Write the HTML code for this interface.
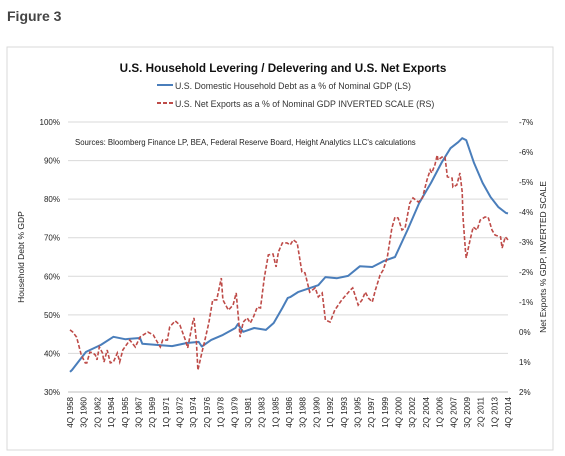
<!DOCTYPE html>
<html><head><meta charset="utf-8">
<style>
body{margin:0;background:#fff;width:565px;height:456px;overflow:hidden;font-family:"Liberation Sans",sans-serif;}
svg{position:absolute;left:0;top:0}
</style></head>
<body>
<svg id="chart" width="565" height="456">
<text x="7" y="21" font-size="14" font-weight="bold" fill="#444">Figure 3</text>
<rect x="7" y="47" width="546" height="403" fill="#fff" stroke="#d9d9d9"/>
<text x="283" y="72" font-size="11.7" font-weight="bold" text-anchor="middle" fill="#111">U.S. Household Levering / Delevering and U.S. Net Exports</text>
<g>
<line x1="157" y1="85" x2="173" y2="85" stroke="#4a7ebb" stroke-width="2"/>
<text x="175" y="89" font-size="8.8" fill="#333">U.S. Domestic Household Debt as a % of Nominal GDP (LS)</text>
<line x1="157" y1="103" x2="173" y2="103" stroke="#be4b48" stroke-width="2" stroke-dasharray="4,2"/>
<text x="175" y="107" font-size="8.8" fill="#333">U.S. Net Exports as a % of Nominal GDP INVERTED SCALE (RS)</text>
</g>
<text x="75" y="145" font-size="7.8" fill="#222">Sources: Bloomberg Finance LP, BEA, Federal Reserve Board, Height Analytics LLC's calculations</text>
<text transform="translate(24,257) rotate(-90)" font-size="8.5" text-anchor="middle" fill="#222">Household Debt % GDP</text>
<text transform="translate(546,257) rotate(-90)" font-size="8.5" text-anchor="middle" fill="#222">Net Exports % GDP, INVERTED SCALE</text>
<g id="grid"></g><g id="axes"></g><g id="series"></g>
</svg>
<script>
const leftTicks=[30,40,50,60,70,80,90,100];
const rightTicks=[2,1,0,-1,-2,-3,-4,-5,-6,-7];
const debtYears=[1958.75,1959.0,1960.8,1962.7,1964.3,1965.8,1967.7,1968.0,1969.8,1971.8,1973.7,1975.2,1975.6,1976.8,1978.3,1979.9,1980.2,1980.9,1982.3,1983.8,1984.8,1985.9,1986.6,1986.9,1987.9,1990.5,1991.4,1992.9,1994.3,1995.8,1997.4,1998.9,2000.3,2001.9,2003.4,2004.9,2006.3,2007.4,2008.4,2008.9,2009.4,2010.4,2011.5,2012.5,2013.5,2014.5,2014.75];
const debtValues=[35.2,35.7,40.4,42.2,44.3,43.7,44.0,42.5,42.2,41.9,42.7,43.0,41.8,43.5,44.8,46.6,47.6,45.6,46.6,46.1,47.9,51.8,54.4,54.6,55.9,57.7,59.8,59.5,60.1,62.6,62.4,64.0,65.0,72.0,79.0,84.2,89.6,93.2,94.8,95.8,95.3,89.4,84.2,80.6,78.0,76.4,76.3];
const nxYears=[1958.75,1959.1,1959.6,1960.2,1960.7,1960.9,1961.3,1961.7,1962.0,1962.2,1962.5,1962.9,1963.1,1963.5,1963.9,1964.3,1964.8,1965.1,1965.5,1966.4,1967.1,1967.7,1968.7,1969.4,1969.9,1970.3,1970.6,1971.2,1971.5,1972.2,1972.8,1973.5,1973.8,1974.5,1974.6,1974.9,1975.1,1975.6,1976.0,1976.5,1977.0,1977.5,1978.1,1978.3,1979.0,1979.6,1980.0,1980.5,1980.9,1981.4,1981.8,1982.2,1982.7,1983.1,1983.6,1984.1,1984.7,1985.1,1985.4,1985.9,1986.5,1986.9,1987.3,1987.8,1988.4,1988.8,1989.4,1990.1,1990.5,1991.0,1991.4,1992.0,1992.6,1993.5,1994.6,1994.9,1995.6,1996.1,1996.5,1996.9,1997.4,1997.8,1998.4,1998.8,1999.3,1999.9,2000.3,2000.7,2001.2,2001.6,2002.2,2002.6,2003.3,2003.8,2004.4,2004.8,2005.0,2005.4,2005.7,2005.8,2006.3,2006.7,2007.0,2007.6,2007.7,2008.2,2008.6,2008.9,2009.0,2009.3,2009.4,2009.9,2010.3,2010.8,2011.2,2011.8,2012.2,2012.7,2013.1,2013.8,2014.0,2014.4,2014.75];
const nxValues=[-0.07,0.0,0.17,0.77,1.03,1.03,0.67,0.7,0.77,0.93,0.5,0.7,1.0,0.6,1.03,1.0,0.7,1.0,0.6,0.27,0.5,0.17,0.0,0.1,0.33,0.5,0.27,0.27,-0.17,-0.37,-0.23,0.27,0.53,-0.4,-0.47,0.27,1.27,0.7,0.27,-0.3,-1.07,-1.07,-1.8,-1.07,-0.73,-0.9,-1.3,0.17,-0.33,-0.47,-0.3,-0.5,-0.83,-0.8,-1.83,-2.57,-2.6,-2.17,-2.67,-2.97,-2.97,-2.9,-3.07,-2.97,-2.0,-1.97,-1.33,-1.47,-1.17,-1.3,-0.4,-0.33,-0.73,-1.07,-1.4,-1.47,-0.9,-1.07,-1.33,-1.13,-1.0,-1.4,-1.9,-2.07,-2.47,-3.47,-3.83,-3.8,-3.4,-3.47,-4.3,-4.47,-4.33,-4.47,-5.07,-5.4,-5.3,-5.57,-5.9,-5.73,-5.83,-5.83,-5.17,-5.13,-4.83,-4.9,-5.3,-4.67,-3.83,-2.73,-2.47,-3.07,-3.5,-3.4,-3.73,-3.83,-3.83,-3.4,-3.23,-3.17,-2.8,-3.17,-3.07];
const xLabels=[];
(function(){let y=1958,q=4;for(let i=0;i<33;i++){xLabels.push(q+'Q '+y);q+=7;while(q>4){q-=4;y++;}}})();

const NS='http://www.w3.org/2000/svg';
const X0=70,X1=508,T0=1958.75,T1=2014.75,YT=122,YB=392,XL=68,XR=508;
const xs=t=>X0+(t-T0)/(T1-T0)*(X1-X0);
const yl=v=>YB-(v-30)/70*(YB-YT);
const yr=v=>YT+(v+7)/9*(YB-YT);
function mk(tag,attrs,parent){const e=document.createElementNS(NS,tag);for(const k in attrs)e.setAttribute(k,attrs[k]);parent.appendChild(e);return e;}
const grid=document.getElementById('grid'),axes=document.getElementById('axes'),series=document.getElementById('series');
leftTicks.forEach(v=>{
 const l=mk('line',{x1:XL,x2:XR,y1:yl(v),y2:yl(v),stroke:v===30?'#bfbfbf':'#d9d9d9','stroke-width':1},grid);
 
 
 const t=mk('text',{x:60,y:yl(v)+3,'font-size':8,'text-anchor':'end',fill:'#222'},axes);
 t.textContent=v+'%';
 
 
});
rightTicks.forEach(v=>{
 const t=mk('text',{x:519,y:yr(v)+3,'font-size':8,fill:'#222'},axes);
 t.textContent=(v)+'%';
 
 
});
xLabels.forEach((s,i)=>{
 const x=X0+i*(X1-X0)/32;
 const t=mk('text',{transform:'translate('+(x+3)+',397) rotate(-90)','font-size':8,'text-anchor':'end',fill:'#222'},axes);
 t.textContent=s;
 
 
});
const pd=debtYears.map((t,i)=>xs(t).toFixed(1)+','+yl(debtValues[i]).toFixed(1)).join(' ');
const p1=mk('polyline',{points:pd,fill:'none',stroke:'#4a7ebb','stroke-width':2,'stroke-linejoin':'round'},series);


const pn=nxYears.map((t,i)=>xs(t).toFixed(1)+','+yr(nxValues[i]).toFixed(1)).join(' ');
const p2=mk('polyline',{points:pn,fill:'none',stroke:'#be4b48','stroke-width':1.6,'stroke-dasharray':'4,2'},series);


</script>
</body></html>
